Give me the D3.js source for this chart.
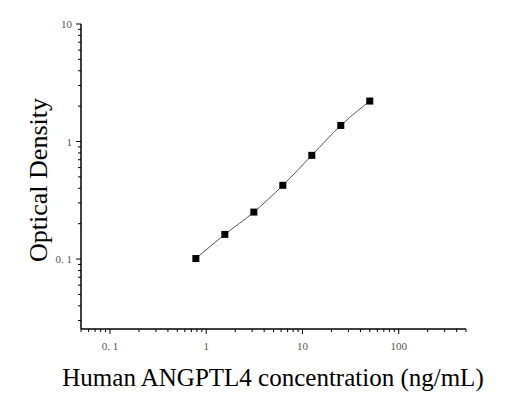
<!DOCTYPE html>
<html>
<head>
<meta charset="utf-8">
<script src="https://cdn.jsdelivr.net/npm/d3@7"></script>
<style>
  body { margin: 0; background: #fff; }
  .tick-label { font-family: "Liberation Serif", "DejaVu Serif", serif; font-size: 11px; fill: #555; }
  .axis-title { font-family: "Liberation Serif", "DejaVu Serif", serif; fill: #000; }
</style>
</head>
<body>
<div id="vis"></div>
<script>
// Frame constants
const FRAME_WIDTH = 521;
const FRAME_HEIGHT = 395;
const MARGINS = {left: 81, right: 55, top: 24, bottom: 66};

// Data
const concentration = [0.78, 1.56, 3.125, 6.25, 12.5, 25, 50];
const density = [0.101, 0.162, 0.251, 0.424, 0.763, 1.37, 2.21];

// Tick labels
const xTicks = [0.1, 1, 10, 100];
const xTickLabels = ["0. 1", "1", "10", "100"];
const yTicks = [0.1, 1, 10];
const yTickLabels = ["0. 1", "1", "10"];

const VIS_WIDTH = FRAME_WIDTH - MARGINS.left - MARGINS.right;
const VIS_HEIGHT = FRAME_HEIGHT - MARGINS.top - MARGINS.bottom;

const FRAME = d3.select("#vis")
  .append("svg")
    .attr("width", FRAME_WIDTH)
    .attr("height", FRAME_HEIGHT);

const X_SCALE = d3.scaleLog()
  .domain([0.05, 500])
  .range([0, VIS_WIDTH]);

const Y_SCALE = d3.scaleLog()
  .domain([0.0254, 10])
  .range([VIS_HEIGHT, 0]);

const G = FRAME.append("g")
  .attr("transform", "translate(" + MARGINS.left + "," + MARGINS.top + ")");

// minor + major ticks
const xAll = X_SCALE.ticks().filter(d => d >= 0.05 && d <= 500);
const yAll = Y_SCALE.ticks().filter(d => d >= 0.0254 && d <= 10);
const isMajor = d => Math.abs(Math.log10(d) - Math.round(Math.log10(d))) < 1e-6;

// X axis
const xAxis = G.append("g")
  .attr("transform", "translate(0," + VIS_HEIGHT + ")");
xAxis.append("line")
  .attr("x1", 0).attr("x2", VIS_WIDTH)
  .attr("stroke", "#000").attr("stroke-width", 1.5);
xAxis.selectAll(".xt")
  .data(xAll)
  .enter()
  .append("line")
    .attr("x1", d => X_SCALE(d)).attr("x2", d => X_SCALE(d))
    .attr("y1", 0).attr("y2", d => isMajor(d) ? 5 : 3)
    .attr("stroke", "#000").attr("stroke-width", 1);
xAxis.selectAll(".xl")
  .data(xTicks)
  .enter()
  .append("text")
    .attr("class", "tick-label")
    .attr("x", d => X_SCALE(d))
    .attr("y", 21)
    .attr("text-anchor", "middle")
    .text((d, i) => xTickLabels[i]);

// Y axis
const yAxis = G.append("g");
yAxis.append("line")
  .attr("y1", 0).attr("y2", VIS_HEIGHT)
  .attr("stroke", "#000").attr("stroke-width", 1.5);
yAxis.selectAll(".yt")
  .data(yAll)
  .enter()
  .append("line")
    .attr("y1", d => Y_SCALE(d)).attr("y2", d => Y_SCALE(d))
    .attr("x1", 0).attr("x2", d => isMajor(d) ? -5 : -3)
    .attr("stroke", "#000").attr("stroke-width", 1);
yAxis.selectAll(".yl")
  .data(yTicks)
  .enter()
  .append("text")
    .attr("class", "tick-label")
    .attr("x", -9)
    .attr("y", d => Y_SCALE(d) + 4)
    .attr("text-anchor", "end")
    .text((d, i) => yTickLabels[i]);

// Curve through the points
const points = concentration.map((c, i) => [c, density[i]]);
const LINE = d3.line()
  .x(d => X_SCALE(d[0]))
  .y(d => Y_SCALE(d[1]))
  .curve(d3.curveMonotoneX);
G.append("path")
  .datum(points)
  .attr("d", LINE)
  .attr("fill", "none")
  .attr("stroke", "#555")
  .attr("stroke-width", 1);

// Points
G.selectAll(".pt")
  .data(points)
  .enter()
  .append("rect")
    .attr("x", d => X_SCALE(d[0]) - 3.5)
    .attr("y", d => Y_SCALE(d[1]) - 3.5)
    .attr("width", 7)
    .attr("height", 7)
    .attr("fill", "#000");

// Axis titles
FRAME.append("text")
  .attr("class", "axis-title")
  .attr("x", 273)
  .attr("y", 386)
  .attr("text-anchor", "middle")
  .attr("font-size", 25)
  .text("Human ANGPTL4 concentration (ng/mL)");

FRAME.append("text")
  .attr("class", "axis-title")
  .attr("transform", "translate(47,180) rotate(-90)")
  .attr("text-anchor", "middle")
  .attr("font-size", 26)
  .text("Optical Density");
</script>
</body>
</html>
